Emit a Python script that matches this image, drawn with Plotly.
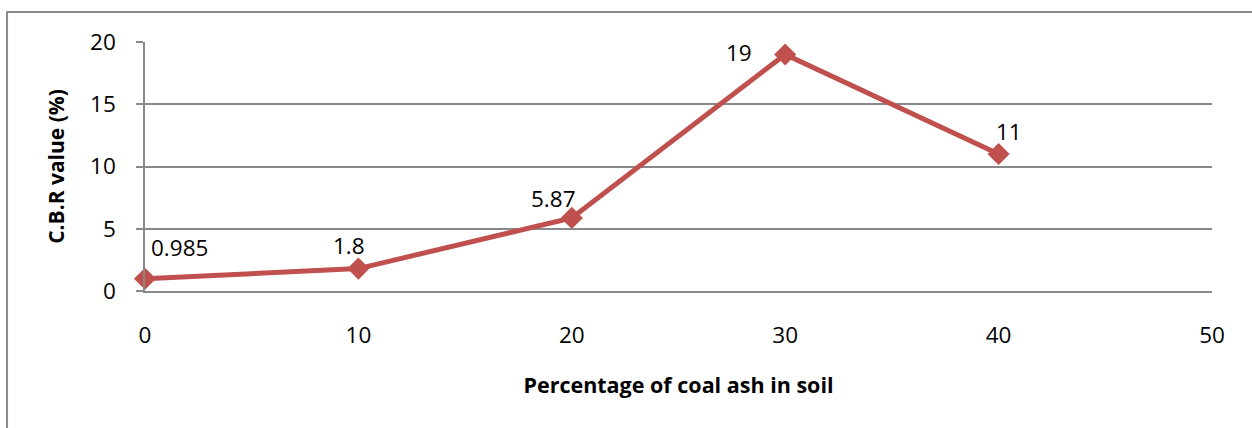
import plotly.graph_objects as go

# C.B.R. test results for soil mixed with coal ash
ash_pct = [0, 10, 20, 30, 40]
cbr_value = [0.985, 1.8, 5.87, 19, 11]
cbr_labels = ["0.985", "1.8", "5.87", "19", "11"]
# pixel nudges for each value label relative to its point
label_dx = [34, -9, -18, -46, 10]
label_dy = [31, 23, 19, 2, 23]

x_ticks = [0, 10, 20, 30, 40, 50]
y_ticks = [0, 5, 10, 15, 20]

RED = "#C0504D"
GRID = "#898989"
FONT = "Open Sans"

fig = go.Figure()
fig.add_trace(go.Scatter(
    x=ash_pct, y=cbr_value, mode="lines+markers",
    line=dict(color=RED, width=5),
    marker=dict(symbol="diamond", size=17, color=RED),
    cliponaxis=False, showlegend=False,
))

for x, y, t, dx, dy in zip(ash_pct, cbr_value, cbr_labels, label_dx, label_dy):
    fig.add_annotation(x=x, y=y, text=t, showarrow=False,
                       xshift=dx, yshift=dy,
                       font=dict(family=FONT, size=22.5, color="#000000"))

# outer chart frame
fig.add_shape(type="rect", xref="paper", yref="paper",
              x0=-0.1293, y0=-1.0, x1=1.2, y1=1.1202,
              line=dict(color=GRID, width=2), layer="below")

fig.update_layout(
    width=1252, height=428,
    margin=dict(l=144.5, r=40, t=41.5, b=137),
    paper_bgcolor="white", plot_bgcolor="white",
    font=dict(family=FONT, size=22.5, color="#000000"),
    xaxis=dict(
        range=[0, 50], tickvals=x_ticks, ticks="", showgrid=False,
        zeroline=False, showline=True, linecolor=GRID, linewidth=1.5,
        ticklabelstandoff=23,
        title=dict(text="<b>Percentage of coal ash in soil</b>",
                   font=dict(family=FONT, size=21.5), standoff=29),
    ),
    yaxis=dict(
        range=[0, 20], tickvals=y_ticks, ticks="outside", ticklen=7,
        tickcolor=GRID, tickwidth=1.5, showgrid=True, gridcolor=GRID,
        gridwidth=1.5, zeroline=False, showline=True, linecolor=GRID,
        linewidth=1.5, ticklabelstandoff=16,
        title=dict(text="<b>C.B.R value (%)</b>",
                   font=dict(family=FONT, size=21), standoff=20),
    ),
)

fig.write_html("out.html")
